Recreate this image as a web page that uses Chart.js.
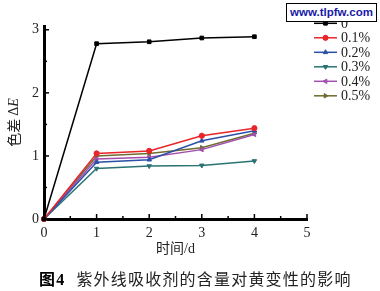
<!DOCTYPE html>
<html>
<head>
<meta charset="utf-8">
<script src="https://cdn.jsdelivr.net/npm/chart.js@4"></script>
<style>
  body { margin: 0; background: #fff; }
  #wrap { position: relative; width: 380px; height: 291px; }
  #marca {
    position: absolute; left: 286px; top: 3px; width: 89px; height: 17px;
    border: 1px solid #000; background: #fff; color: #1a1aa8;
    font: bold 11.5px "Liberation Sans", Arial, sans-serif;
    text-align: center; line-height: 17px;
  }
  #pie {
    position: absolute; left: 39px; top: 266px; white-space: nowrap;
    font: 16px "Noto Sans CJK SC"; letter-spacing: 1.2px; color: #222;
  }
</style>
</head>
<body>
<div id="wrap">
  <canvas id="grafica" width="380" height="291"></canvas>
  <div id="marca">www.tlpfw.com</div>
  <div id="pie"><b style="color:#000">图<span style="font-family:'Liberation Serif'">4</span></b><span style="margin-left:11px">紫外线吸收剂的含量对黄变性的影响</span></div>
</div>
<script>
// datos
const dias = [0, 1, 2, 3, 4];
const etiquetas = ["0", "0.1%", "0.2%", "0.3%", "0.4%", "0.5%"];
const serie0 = [0, 2.78, 2.81, 2.87, 2.89];
const serie01 = [0, 1.04, 1.08, 1.32, 1.44];
const serie02 = [0, 0.90, 0.94, 1.24, 1.40];
const serie03 = [0, 0.80, 0.84, 0.85, 0.92];
const serie04 = [0, 0.95, 0.98, 1.10, 1.34];
const serie05 = [0, 1.00, 1.04, 1.13, 1.36];
const ticksX = [0, 1, 2, 3, 4, 5];
const ticksY = [0, 1, 2, 3];

const series = [serie0, serie01, serie02, serie03, serie04, serie05];
const colores = ["#000000", "#e8252b", "#2b50a8", "#2a7372", "#a24fae", "#6e6c2e"];
const formas = ["rect", "circle", "triangle", "triangle", "triangle", "triangle"];
const giros = [0, 0, 0, 180, 270, 90];

const datasets = series.map((s, i) => ({
  label: etiquetas[i],
  data: s.map((v, j) => ({ x: dias[j], y: v })),
  borderColor: colores[i],
  backgroundColor: colores[i],
  borderWidth: 1.5,
  pointStyle: formas[i],
  rotation: giros[i],
  pointRadius: 2.6,
  pointBorderWidth: 1,
  tension: 0,
  clip: false,
}));

// ticks hacia dentro, título del eje y y leyenda dentro del gráfico
const extras = {
  id: "extras",
  afterDraw(chart) {
    const ctx = chart.ctx;
    const sx = chart.scales.x, sy = chart.scales.y;
    const area = chart.chartArea;
    ctx.save();
    ctx.strokeStyle = "#000";
    ctx.lineWidth = 1.5;
    for (let v = 0; v <= 5; v += 0.5) {
      const px = sx.getPixelForValue(v);
      const l = Number.isInteger(v) ? 5 : 3;
      ctx.beginPath();
      ctx.moveTo(px, area.bottom);
      ctx.lineTo(px, area.bottom - l);
      ctx.stroke();
    }
    for (let v = 0; v <= 3; v += 0.5) {
      const py = sy.getPixelForValue(v);
      const l = Number.isInteger(v) ? 5 : 3;
      ctx.beginPath();
      ctx.moveTo(area.left, py);
      ctx.lineTo(area.left + l, py);
      ctx.stroke();
    }

    // título eje y: 色差 ΔE (E en cursiva)
    ctx.translate(14, (area.top + area.bottom) / 2);
    ctx.rotate(-Math.PI / 2);
    ctx.fillStyle = "#222";
    ctx.textBaseline = "middle";
    const f1 = '14px "Noto Sans CJK SC"';
    const f2 = 'italic 14px "Liberation Serif"';
    const f3 = '14px "Liberation Serif"';
    ctx.font = f1;
    const w1 = ctx.measureText("色差 ").width;
    ctx.font = f3;
    const w2 = ctx.measureText("Δ").width;
    ctx.font = f2;
    const w3 = ctx.measureText("E").width;
    let x0 = -(w1 + w2 + w3) / 2;
    ctx.font = f1; ctx.fillText("色差 ", x0, 0); x0 += w1;
    ctx.font = f3; ctx.fillText("Δ", x0, 0); x0 += w2;
    ctx.font = f2; ctx.fillText("E", x0, 0);
    ctx.restore();

    // leyenda
    ctx.save();
    chart.data.datasets.forEach((ds, i) => {
      const y = 23.3 + i * 14.5;
      ctx.strokeStyle = ds.borderColor;
      ctx.fillStyle = ds.backgroundColor;
      ctx.lineWidth = 1.5;
      ctx.beginPath();
      ctx.moveTo(314, y);
      ctx.lineTo(337, y);
      ctx.stroke();
      ctx.lineWidth = 1;
      Chart.helpers.drawPoint(ctx, {
        pointStyle: ds.pointStyle, rotation: ds.rotation, radius: 2.6, borderWidth: 1,
      }, 325.5, y);
      ctx.fillStyle = "#222";
      ctx.font = '14px "Liberation Serif"';
      ctx.textBaseline = "middle";
      ctx.fillText(ds.label, 341, y + 1);
    });
    ctx.restore();
  },
};

const config = {
  type: "line",
  data: { datasets: datasets },
  options: {
    responsive: false,
    animation: false,
    layout: { padding: { top: 26, right: 73, bottom: 22, left: 0 } },
    plugins: { legend: { display: false }, tooltip: { enabled: false } },
    scales: {
      x: {
        type: "linear",
        min: 0,
        max: 5,
        afterBuildTicks: (s) => { s.ticks = ticksX.map((v) => ({ value: v })); },
        afterFit: (s) => { s.height = 50; },
        grid: { display: false, drawTicks: false },
        border: { display: true, width: 3, color: "#000" },
        ticks: { padding: 6, color: "#222", font: { family: "Liberation Serif", size: 14 } },
        title: {
          display: true,
          text: "时间/d",
          color: "#222",
          font: { family: '"Liberation Serif", "Noto Sans CJK SC"', size: 14 },
          padding: { top: 0, bottom: 11 },
        },
      },
      y: {
        type: "linear",
        min: 0,
        max: 3.06,
        afterBuildTicks: (s) => { s.ticks = ticksY.map((v) => ({ value: v })); },
        afterFit: (s) => { s.width = 44; },
        grid: { display: false, drawTicks: false },
        border: { display: true, width: 3, color: "#000" },
        ticks: { padding: 5, color: "#222", font: { family: "Liberation Serif", size: 14 } },
      },
    },
  },
  plugins: [extras],
};

new Chart(document.getElementById("grafica").getContext("2d"), config);
</script>
</body>
</html>
